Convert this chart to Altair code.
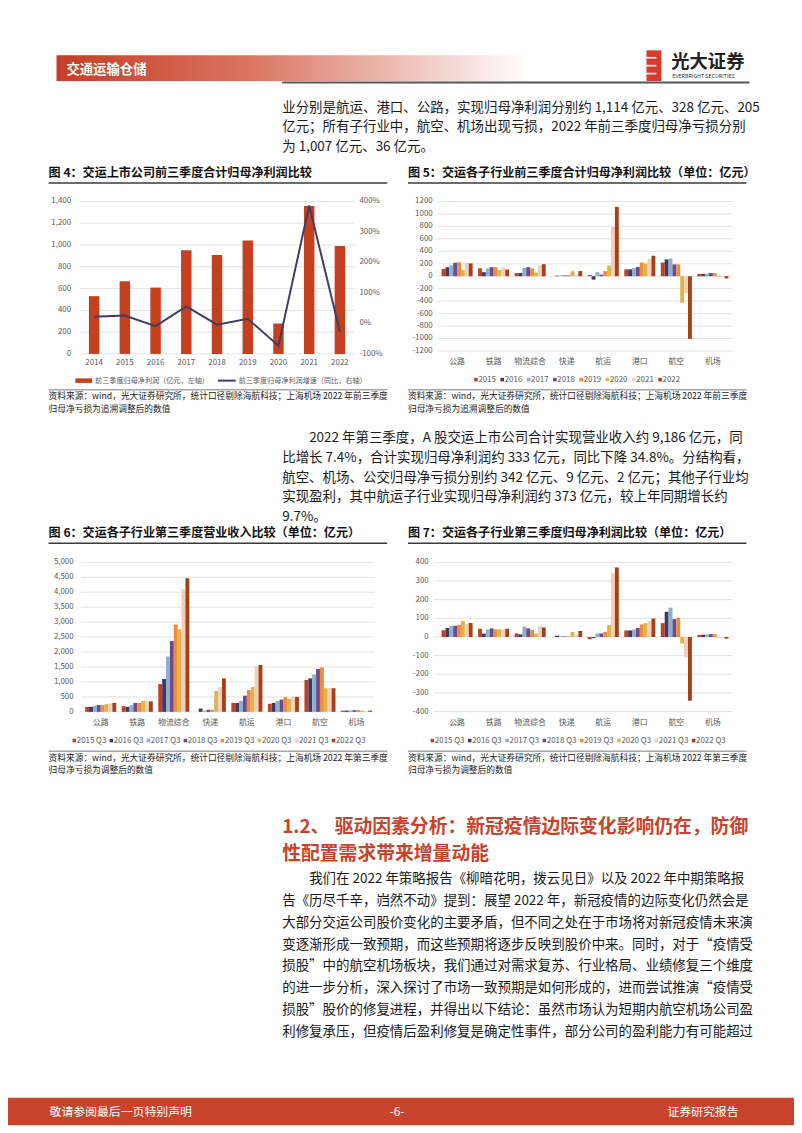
import altair as alt
import pandas as pd

FONT = "Noto Sans CJK SC"
W, H = 794, 1125
M = 8
RED = "#c8432b"
TXT = "#1a1a1a"
AXC = "#595959"
GRID = "#dcdcdc"

# ---------------- data ----------------
fig4_years = ["2014", "2015", "2016", "2017", "2018", "2019", "2020", "2021", "2022"]
fig4_profit = [530, 667, 609, 951, 909, 1042, 279, 1358, 991]
fig4_growth = [22, 26, -9, 56, -4, 15, -73, 387, -27]
fig4_left_ticks = [0, 200, 400, 600, 800, 1000, 1200, 1400]
fig4_left_labels = ["0", "200", "400", "600", "800", "1,000", "1,200", "1,400"]
fig4_right_ticks = [-100, 0, 100, 200, 300, 400]
fig4_right_labels = ["-100%", "0%", "100%", "200%", "300%", "400%"]

sectors = ["公路", "铁路", "物流综合", "快递", "航运", "港口", "航空", "机场"]
years = ["2015", "2016", "2017", "2018", "2019", "2020", "2021", "2022"]
quarters = ["2015 Q3", "2016 Q3", "2017 Q3", "2018 Q3", "2019 Q3", "2020 Q3", "2021 Q3", "2022 Q3"]
series_colors = ["#c23f2a", "#3e3b62", "#8eaecb", "#6c4c8c", "#f08a3c", "#d9b64e", "#f6cdb9", "#a4411b"]

# Fig 5: 前三季度归母净利润 (values per sector, 2015..2022)
fig5_road = [117, 143, 175, 215, 225, 98, 215, 205]
fig5_rail = [127, 64, 125, 145, 145, 100, 138, 106]
fig5_logistics = [50, 52, 133, 145, 125, 60, 170, 193]
fig5_express = [0, 8, 12, 12, 18, 80, 25, 82]
fig5_shipping = [20, -55, 65, 25, 80, 170, 790, 1114]
fig5_port = [110, 110, 130, 150, 220, 205, 280, 328]
fig5_airline = [220, 270, 285, 190, 190, -425, -275, -1007]
fig5_airport = [35, 35, 42, 50, 50, -5, -15, -36]
fig5_ticks = [-1200, -1000, -800, -600, -400, -200, 0, 200, 400, 600, 800, 1000, 1200]
fig5_labels = ["-1200", "-1000", "-800", "-600", "-400", "-200", "0", "200", "400", "600", "800", "1000", "1200"]

# Fig 6: 第三季度营业收入
fig6_road = [165, 170, 205, 230, 230, 260, 280, 300]
fig6_rail = [190, 170, 220, 300, 300, 360, 370, 350]
fig6_logistics = [930, 1100, 1850, 2370, 2920, 2760, 4100, 4470]
fig6_express = [0, 110, 40, 70, 70, 700, 830, 1120]
fig6_shipping = [300, 300, 370, 540, 730, 830, 1510, 1570]
fig6_port = [270, 300, 360, 410, 490, 440, 500, 500]
fig6_airline = [1070, 1120, 1250, 1430, 1490, 790, 800, 790]
fig6_airport = [40, 45, 50, 60, 60, 40, 30, 40]
fig6_ticks = [0, 500, 1000, 1500, 2000, 2500, 3000, 3500, 4000, 4500, 5000]
fig6_labels = ["0", "500", "1,000", "1,500", "2,000", "2,500", "3,000", "3,500", "4,000", "4,500", "5,000"]

# Fig 7: 第三季度归母净利润
fig7_road = [36, 48, 60, 60, 65, 86, 70, 75]
fig7_rail = [44, 18, 40, 46, 41, 41, 41, 44]
fig7_logistics = [19, 14, 55, 46, 37, 18, 58, 51]
fig7_express = [0, 7, 4, 3, 3, 27, 11, 32]
fig7_shipping = [-12, -6, 19, 19, 28, 64, 342, 373]
fig7_port = [35, 35, 39, 48, 67, 74, 85, 99]
fig7_airline = [74, 135, 157, 96, 103, -35, -110, -342]
fig7_airport = [11, 12, 14, 15, 15, -2, -4, -9]
fig7_ticks = [-400, -300, -200, -100, 0, 100, 200, 300, 400]
fig7_labels = ["-400", "-300", "-200", "-100", "0", "100", "200", "300", "400"]

para1 = [
    "业分别是航运、港口、公路，实现归母净利润分别约 1,114 亿元、328 亿元、205",
    "亿元；所有子行业中，航空、机场出现亏损，2022 年前三季度归母净亏损分别",
    "为 1,007 亿元、36 亿元。",
]
para2_first = "2022 年第三季度，A 股交运上市公司合计实现营业收入约 9,186 亿元，同"
para2_rest = [
    "比增长 7.4%，合计实现归母净利润约 333 亿元，同比下降 34.8%。分结构看，",
    "航空、机场、公交归母净亏损分别约 342 亿元、9 亿元、2 亿元；其他子行业均",
    "实现盈利，其中航运子行业实现归母净利润约 373 亿元，较上年同期增长约",
    "9.7%。",
]
para3_first = "我们在 2022 年策略报告《柳暗花明，拨云见日》以及 2022 年中期策略报"
para3_rest = [
    "告《历尽千辛，岿然不动》提到：展望 2022 年，新冠疫情的边际变化仍然会是",
    "大部分交运公司股价变化的主要矛盾，但不同之处在于市场将对新冠疫情未来演",
    "变逐渐形成一致预期，而这些预期将逐步反映到股价中来。同时，对于“疫情受",
    "损股”中的航空机场板块，我们通过对需求复苏、行业格局、业绩修复三个维度",
    "的进一步分析，深入探讨了市场一致预期是如何形成的，进而尝试推演“疫情受",
    "损股”股价的修复进程，并得出以下结论：虽然市场认为短期内航空机场公司盈",
    "利修复承压，但疫情后盈利修复是确定性事件，部分公司的盈利能力有可能超过",
]
src_top = ["资料来源：wind，光大证券研究所，统计口径剔除海航科技；上海机场 2022 年前三季度",
           "归母净亏损为追溯调整后的数值"]
src_bottom = ["资料来源：wind，光大证券研究所，统计口径剔除海航科技；上海机场 2022 年第三季度",
              "归母净亏损为调整后的数值"]

ONE = pd.DataFrame({"k": [0]})


def X(v):
    return v - M


def Y(v):
    return v - M


def txt(s, x, yc, size, color=TXT, weight="normal", align="left", lh=None):
    kw = dict(align=align, baseline="alphabetic", fontSize=size, color=color,
              fontWeight=weight, font=FONT)
    if lh is not None:
        kw["lineHeight"] = lh
    return alt.Chart(ONE).mark_text(**kw).encode(
        x=alt.value(X(x)), y=alt.value(Y(yc + 0.37 * size)), text=alt.value(s))


def box(x0, y0, x1, y1, color):
    return alt.Chart(ONE).mark_rect(color=color).encode(
        x=alt.value(X(x0)), x2=alt.value(X(x1)), y=alt.value(Y(y0)), y2=alt.value(Y(y1)))


def hline(x0, x1, y, color, w):
    return alt.Chart(ONE).mark_rule(color=color, strokeWidth=w).encode(
        x=alt.value(X(x0)), x2=alt.value(X(x1)), y=alt.value(Y(y)))


def long_df(rows, series):
    recs = []
    for cat, vals in zip(sectors, rows):
        for s, v in zip(series, vals):
            recs.append({"c": cat, "s": s, "v": v})
    return pd.DataFrame(recs)


def bar_panel(rows, series, ydom, ybot, ytop, xl, xr, gl, gr, ticks, labels, lab_x, xlab_y):
    df = long_df(rows, series)
    xs = alt.Scale(domain=sectors, range=[X(xl), X(xr)], paddingInner=0.15, paddingOuter=0.075)
    ys = alt.Scale(domain=ydom, range=[Y(ybot), Y(ytop)], nice=False, zero=False)
    tdf = pd.DataFrame({"v": ticks, "lab": labels})
    grid = alt.Chart(tdf).mark_rule(color=GRID, strokeWidth=0.8).encode(
        y=alt.Y("v:Q", scale=ys, axis=None), x=alt.value(X(gl)), x2=alt.value(X(gr)))
    ylab = alt.Chart(tdf).mark_text(align="right", baseline="middle", fontSize=8, color=AXC, font=FONT).encode(
        y=alt.Y("v:Q", scale=ys, axis=None), x=alt.value(X(lab_x)), text="lab:N")
    cdf = pd.DataFrame({"c": sectors})
    xlab = alt.Chart(cdf).mark_text(align="center", baseline="middle", fontSize=8, color=AXC, font=FONT).encode(
        x=alt.X("c:N", scale=xs, axis=None), y=alt.value(Y(xlab_y)), text="c:N")
    bars = alt.Chart(df).mark_bar().encode(
        x=alt.X("c:N", scale=xs, axis=None),
        xOffset=alt.XOffset("s:N", scale=alt.Scale(domain=series, paddingInner=0, paddingOuter=0)),
        y=alt.Y("v:Q", scale=ys, axis=None),
        y2=alt.datum(0),
        color=alt.Color("s:N", scale=alt.Scale(domain=series, range=series_colors), legend=None),
    )
    return alt.layer(grid, bars, ylab, xlab)


def legend(series, x0, x1, y, dx):
    ldf = pd.DataFrame({"s": series})
    ls = alt.Scale(type="point", domain=series, range=[X(x0), X(x1)], padding=0)
    sq = alt.Chart(ldf).mark_square(size=13, opacity=1).encode(
        x=alt.X("s:N", scale=ls, axis=None), y=alt.value(Y(y)),
        color=alt.Color("s:N", scale=alt.Scale(domain=series, range=series_colors), legend=None))
    tx = alt.Chart(ldf).mark_text(align="left", baseline="middle", dx=dx, fontSize=8, color=AXC, font=FONT).encode(
        x=alt.X("s:N", scale=ls, axis=None), y=alt.value(Y(y)), text="s:N")
    return alt.layer(sq, tx)


# ---------------- page furniture ----------------
grad = alt.LinearGradient(gradient="linear", x1=0, x2=1, y1=0, y2=0,
                          stops=[alt.GradientStop(color="#c53d26", offset=0),
                                 alt.GradientStop(color="#d9735f", offset=0.4),
                                 alt.GradientStop(color="#ffffff", offset=1)])
header_bar = alt.Chart(ONE).mark_rect(color=grad).encode(
    x=alt.value(X(57)), x2=alt.value(X(535)), y=alt.value(Y(50)), y2=alt.value(Y(76)))

logo = [
    box(653, 45, 668, 76, "#d63c2a"),
    hline(653, 663, 52.5, "white", 1.6),
    hline(653, 663, 60.5, "white", 1.6),
    hline(653, 663, 68.5, "white", 1.6),
    txt("光大证券", 678, 56, 18.5, "#222222", "bold"),
    txt("EVERBRIGHT SECURITIES", 679, 70.5, 5.4, "#333333"),
]

P = 13.6
page = [
    header_bar,
    txt("交通运输仓储", 67, 63.5, 13.5, "white", "bold"),
    *logo,
    hline(285, 757, 77.5, "#555555", 2),
    txt(para1, 285, 102, P, lh=20),
    # figure titles
    txt("图 4：交运上市公司前三季度合计归母净利润比较", 49, 168, 12.2, "#111111", "bold"),
    txt("图 5：交运各子行业前三季度合计归母净利润比较（单位：亿元）", 412, 168, 12.2, "#111111", "bold"),
    hline(49, 391, 179, "#3a3a3a", 1.6),
    hline(412, 754, 179, "#3a3a3a", 1.6),
    hline(49, 391, 388, "#555555", 0.8),
    hline(412, 754, 388, "#555555", 0.8),
    txt(src_top, 49, 394.5, 8.8, "#222222", lh=12.5),
    txt(src_top, 412, 394.5, 8.8, "#222222", lh=12.5),
    txt(para2_first, 285 + 2 * P, 436, P),
    txt(para2_rest, 285, 455.8, P, lh=19.8),
    txt("图 6：交运各子行业第三季度营业收入比较（单位：亿元）", 49, 532.5, 12.2, "#111111", "bold"),
    txt("图 7：交运各子行业第三季度归母净利润比较（单位：亿元）", 412, 532.5, 12.2, "#111111", "bold"),
    hline(49, 391, 543, "#3a3a3a", 1.6),
    hline(412, 754, 543, "#3a3a3a", 1.6),
    hline(49, 391, 753, "#555555", 0.8),
    hline(412, 754, 753, "#555555", 0.8),
    txt(src_bottom, 49, 759.5, 8.8, "#222222", lh=12.5),
    txt(src_bottom, 412, 759.5, 8.8, "#222222", lh=12.5),
    txt("1.2、", 285, 829, 19, RED, "bold"),
    txt("驱动因素分析：新冠疫情边际变化影响仍在，防御", 338, 829, 19, RED, "bold"),
    txt("性配置需求带来增量动能", 285, 856, 19, RED, "bold"),
    txt(para3_first, 285 + 2 * P, 881.5, P),
    txt(para3_rest, 285, 903.5, P, lh=22),
    box(8, 1103, 802, 1131, RED),
    txt("敬请参阅最后一页特别声明", 50, 1117, 12, "white"),
    txt("-6-", 401, 1117, 12, "white", align="center"),
    txt("证券研究报告", 746, 1117, 12, "white", align="right"),
]

# ---------------- Figure 4 ----------------
df4 = pd.DataFrame({"year": fig4_years, "profit": fig4_profit, "growth": fig4_growth})
xs4 = dict(domain=fig4_years, range=[X(79.5), X(358.8)], paddingInner=0.66, paddingOuter=0.33)
ys4 = alt.Scale(domain=[0, 1400], range=[Y(351.7), Y(197.7)], nice=False, zero=False)
ys4r = alt.Scale(domain=[-100, 400], range=[Y(351.7), Y(197.7)], nice=False, zero=False)
t4 = pd.DataFrame({"v": fig4_left_ticks, "lab": fig4_left_labels})
t4r = pd.DataFrame({"v": fig4_right_ticks, "lab": fig4_right_labels})

fig4_left = alt.layer(
    alt.Chart(t4).mark_rule(color=GRID, strokeWidth=0.8).encode(
        y=alt.Y("v:Q", scale=ys4, axis=None), x=alt.value(X(80)), x2=alt.value(X(358.3))),
    alt.Chart(df4).mark_bar(color="#c5401f").encode(
        x=alt.X("year:N", scale=alt.Scale(**xs4), axis=None),
        y=alt.Y("profit:Q", scale=ys4, axis=None), y2=alt.datum(0)),
    alt.Chart(t4).mark_text(align="right", baseline="middle", fontSize=8, color=AXC, font=FONT).encode(
        y=alt.Y("v:Q", scale=ys4, axis=None), x=alt.value(X(71.7)), text="lab:N"),
    alt.Chart(df4).mark_text(align="center", baseline="middle", fontSize=8, color=AXC, font=FONT).encode(
        x=alt.X("year:N", scale=alt.Scale(**xs4), axis=None), y=alt.value(Y(360.7)), text="year:N"),
)
fig4_right = alt.layer(
    alt.Chart(df4).mark_line(color="#3f3d62", strokeWidth=2).encode(
        x=alt.X("year:N", scale=alt.Scale(**xs4), axis=None),
        y=alt.Y("growth:Q", scale=ys4r, axis=None)),
    alt.Chart(t4r).mark_text(align="left", baseline="middle", fontSize=8, color=AXC, font=FONT).encode(
        y=alt.Y("v:Q", scale=ys4r, axis=None), x=alt.value(X(363)), text="lab:N"),
)
fig4_legend = [
    box(76, 376.4, 93, 381, "#c5401f"),
    txt("前三季度归母净利润（亿元，左轴）", 96, 378.7, 7.2, AXC),
    hline(220, 238, 378.7, "#3f3d62", 2),
    txt("前三季度归母净利润增速（同比，右轴）", 241, 378.7, 7.2, AXC),
]

# ---------------- Figures 5-7 ----------------
fig5 = bar_panel([fig5_road, fig5_rail, fig5_logistics, fig5_express, fig5_shipping, fig5_port, fig5_airline, fig5_airport],
                 years, [-1200, 1200], 348.7, 197.7, 443.2, 738.5, 441.7, 740, fig5_ticks, fig5_labels, 437, 360)
fig5_leg = legend(years, 480.7, 666.7, 377.7, 2.5)

fig6 = bar_panel([fig6_road, fig6_rail, fig6_logistics, fig6_express, fig6_shipping, fig6_port, fig6_airline, fig6_airport],
                 quarters, [0, 5000], 713.3, 562.3, 83.2, 378.5, 81.7, 378.3, fig6_ticks, fig6_labels, 74.3, 724.3)
fig6_leg = legend(quarters, 75, 336.8, 742.3, 2.5)

fig7 = bar_panel([fig7_road, fig7_rail, fig7_logistics, fig7_express, fig7_shipping, fig7_port, fig7_airline, fig7_airport],
                 quarters, [-400, 400], 713, 562.3, 443.2, 738.5, 438, 740, fig7_ticks, fig7_labels, 433, 724.3)
fig7_leg = legend(quarters, 436.7, 700.6, 742.3, 2.5)

chart = alt.layer(
    *page, fig4_left, fig4_right, *fig4_legend,
    fig5, fig5_leg, fig6, fig6_leg, fig7, fig7_leg,
).resolve_scale(
    x="independent", y="independent", color="independent", xOffset="independent"
).properties(
    width=W, height=H, padding=0, background="white",
    autosize=alt.AutoSizeParams(type="none"),
).configure_view(stroke=None)

chart.save("out.html", embed_options={"renderer": "svg", "actions": False})
